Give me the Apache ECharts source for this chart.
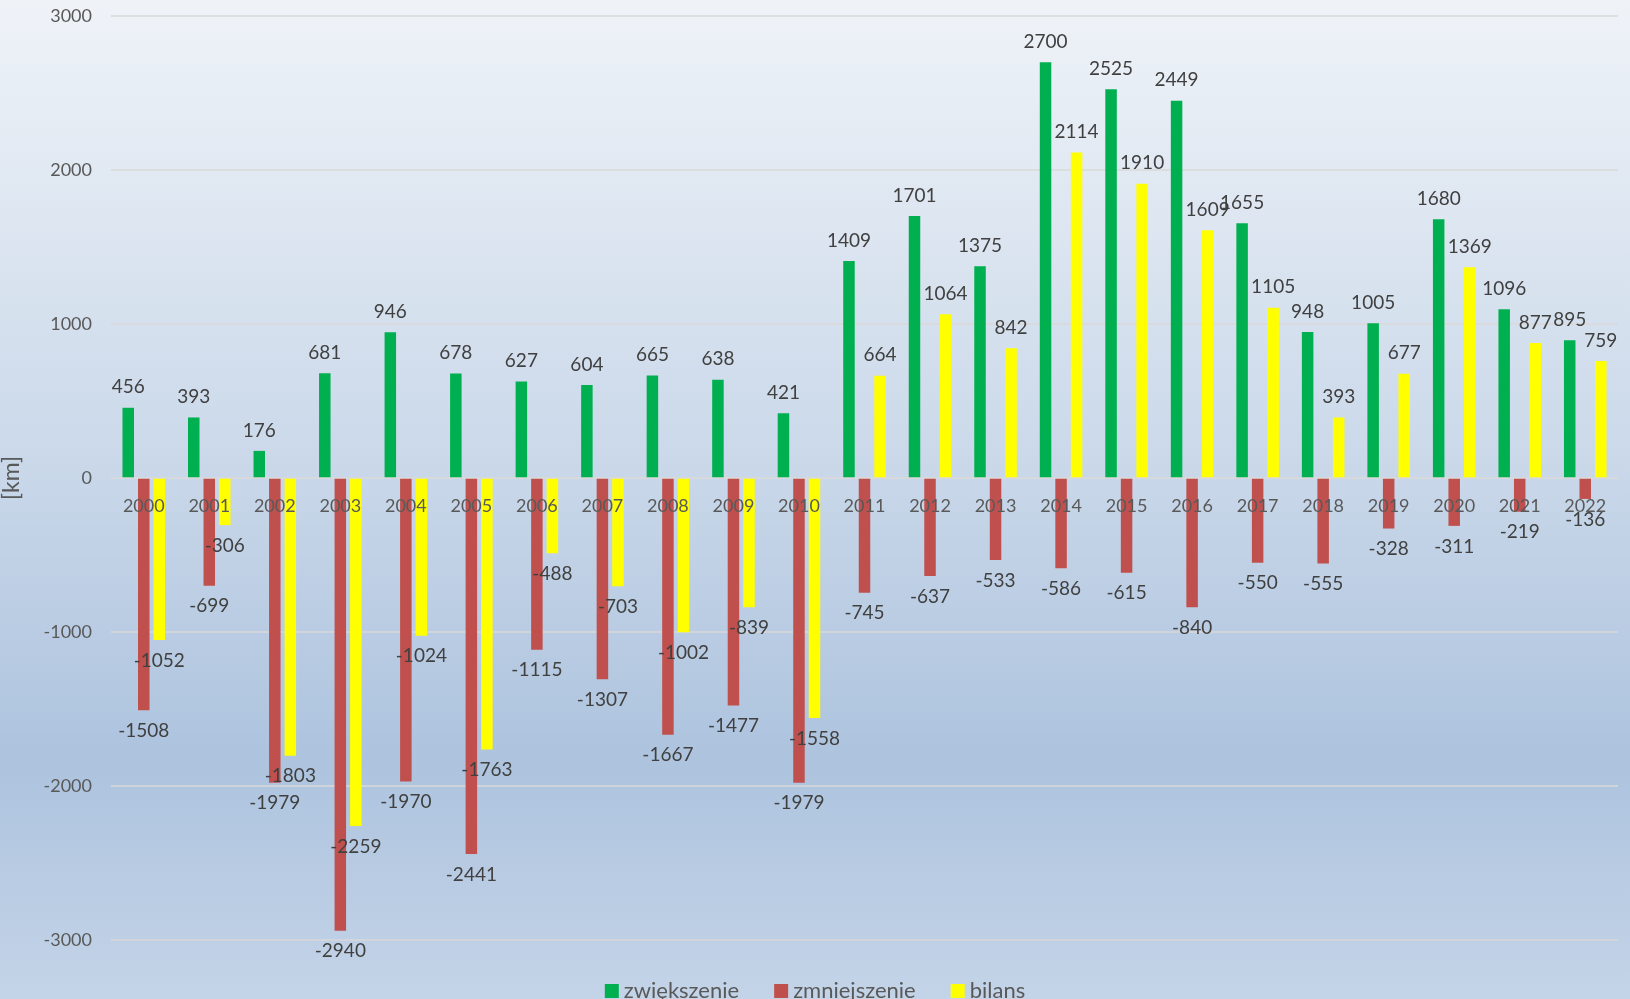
<!DOCTYPE html>
<html>
<head>
<meta charset="utf-8">
<script src="https://cdn.jsdelivr.net/npm/echarts@6/dist/echarts.min.js"></script>
<style>
  html, body { margin: 0; padding: 0; }
  #chart { width: 1630px; height: 999px; }
</style>
</head>
<body>
<div id="chart"></div>
<script>
// lata
var years = ['2000', '2001', '2002', '2003', '2004', '2005', '2006', '2007', '2008', '2009', '2010', '2011',
             '2012', '2013', '2014', '2015', '2016', '2017', '2018', '2019', '2020', '2021', '2022'];
// zwiększenie
var increase = [456, 393, 176, 681, 946, 678, 627, 604, 665, 638, 421, 1409,
                1701, 1375, 2700, 2525, 2449, 1655, 948, 1005, 1680, 1096, 895];
// zmniejszenie
var decrease = [-1508, -699, -1979, -2940, -1970, -2441, -1115, -1307, -1667, -1477, -1979, -745,
                -637, -533, -586, -615, -840, -550, -555, -328, -311, -219, -136];
// bilans
var balance = [-1052, -306, -1803, -2259, -1024, -1763, -488, -703, -1002, -839, -1558, 664,
               1064, 842, 2114, 1910, 1609, 1105, 393, 677, 1369, 877, 759];
var seriesNames = ['zwiększenie', 'zmniejszenie', 'bilans'];
var yTicks = [-3000, -2000, -1000, 0, 1000, 2000, 3000];

var FONT = 'Lato';
var GRID_TOP = 16, GRID_BOTTOM = 59, H = 999;

// etykiety: nad słupkiem dla dodatnich, pod słupkiem dla ujemnych
function withLabels(arr) {
    return arr.map(function (v) {
        return { value: v, label: { position: v < 0 ? 'bottom' : 'top' } };
    });
}

function barSeries(name, arr, color) {
    return {
        name: name,
        type: 'bar',
        barWidth: 11.5,
        barGap: '35%',
        itemStyle: { color: color },
        label: {
            show: true,
            distance: 11,
            color: '#404040',
            fontFamily: FONT,
            fontSize: 19
        },
        data: withLabels(arr)
    };
}

// oś kategorii przesunięta na linię zera (zero jest w połowie zakresu)
var plotH = H - GRID_TOP - GRID_BOTTOM;
var zeroOffset = -plotH * (0 - yTicks[0]) / (yTicks[yTicks.length - 1] - yTicks[0]);

var chart = echarts.init(document.getElementById('chart'));
var option = {
    backgroundColor: {
        type: 'linear', x: 0, y: 0, x2: 0, y2: 1,
        colorStops: [
            { offset: 0, color: '#eff3f8' },
            { offset: 0.45, color: '#cbd9ea' },
            { offset: 0.76, color: '#adc3de' },
            { offset: 1, color: '#c4d4e8' }
        ]
    },
    animation: false,
    textStyle: { fontFamily: FONT },
    legend: {
        data: seriesNames,
        left: 'center',
        top: 975,
        itemWidth: 14,
        itemHeight: 14,
        itemGap: 35,
        icon: 'rect',
        textStyle: { color: '#595959', fontSize: 22, fontFamily: FONT }
    },
    grid: { left: 111, right: 12, top: GRID_TOP, bottom: GRID_BOTTOM, outerBoundsMode: 'none' },
    xAxis: {
        type: 'category',
        data: years,
        z: 3,
        offset: zeroOffset,
        axisLine: { onZero: false, lineStyle: { color: '#d9d9d9', width: 1.5 } },
        axisTick: { show: false },
        axisLabel: { color: '#595959', fontSize: 18, fontFamily: FONT, margin: 19 },
        splitLine: { show: false }
    },
    yAxis: {
        type: 'value',
        min: yTicks[0],
        max: yTicks[yTicks.length - 1],
        interval: 1000,
        name: '[km]',
        nameLocation: 'middle',
        nameGap: 88,
        nameTextStyle: { color: '#595959', fontSize: 23, fontFamily: FONT },
        axisLine: { show: false },
        axisTick: { show: false },
        axisLabel: {
            color: '#595959', fontSize: 18, fontFamily: FONT, margin: 19,
            formatter: function (v) { return String(v); }
        },
        splitLine: { lineStyle: { color: '#d9d9d9', width: 1.5 } }
    },
    series: [
        barSeries(seriesNames[0], increase, '#00b050'),
        barSeries(seriesNames[1], decrease, '#c0504d'),
        barSeries(seriesNames[2], balance, '#ffff00')
    ]
};
chart.setOption(option);
</script>
</body>
</html>
